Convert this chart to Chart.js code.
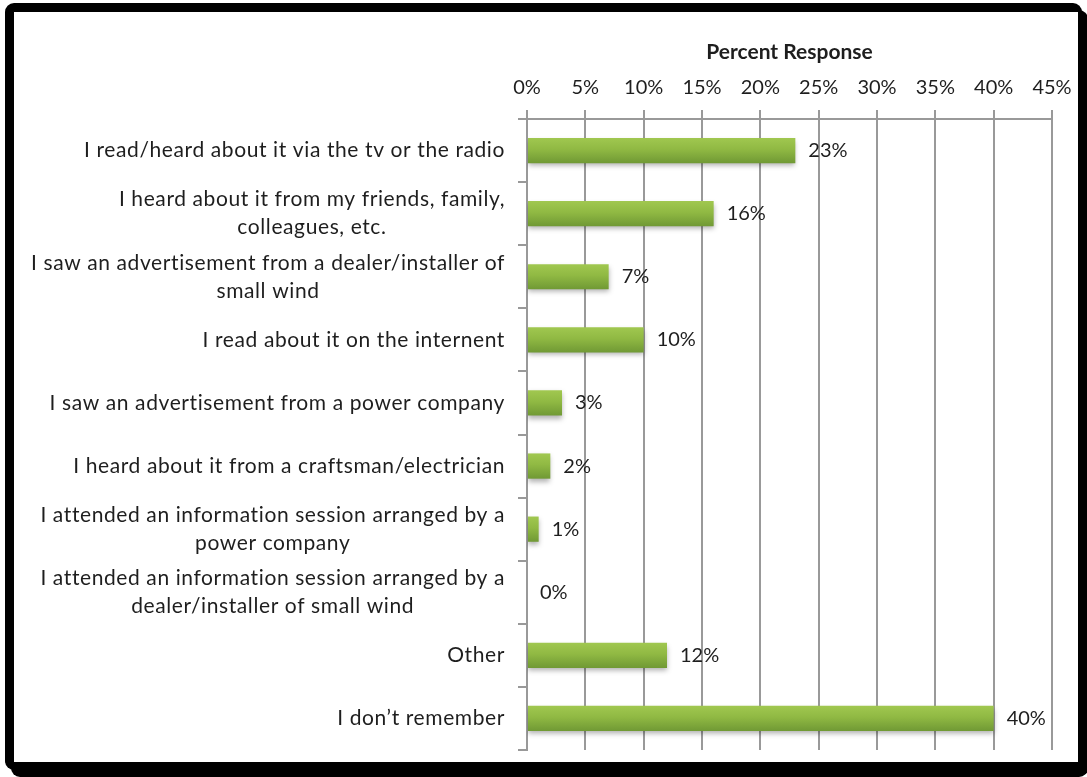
<!DOCTYPE html>
<html>
<head>
<meta charset="utf-8">
<title>Percent Response</title>
<script src="https://cdn.jsdelivr.net/npm/chart.js@4.4.0/dist/chart.umd.min.js"></script>
<style>
  html, body { margin: 0; padding: 0; background: #fff; }
  body { width: 1087px; height: 777px; position: relative; overflow: hidden; }
  .frame {
    position: absolute; left: 5px; top: 3px; width: 1077px; height: 767px;
    background: #000; border-radius: 9px; box-shadow: 6px 7px 0 #000;
  }
  .panel {
    position: absolute; left: 14px; top: 12px; width: 1064px; height: 750px;
    background: #fff;
  }
</style>
</head>
<body>
<div class="frame"></div>
<div class="panel"><canvas id="barChart"></canvas></div>
<script>
document.addEventListener('DOMContentLoaded', function() {

const categories = [
  ['I read/heard about it via the tv or the radio'],
  ['I heard about it from my friends, family,', 'colleagues, etc.'],
  ['I saw an advertisement from a dealer/installer of', 'small wind'],
  ['I read about it on the internent'],
  ['I saw an advertisement from a power company'],
  ['I heard about it from a craftsman/electrician'],
  ['I attended an information session arranged by a', 'power company'],
  ['I attended an information session arranged by a', 'dealer/installer of small wind'],
  ['Other'],
  ['I don\u2019t remember']
];
const responses = [23, 16, 7, 10, 3, 2, 1, 0, 12, 40]; // percent
const axisMin = 0;
const axisMax = 45;
const axisStep = 5;

const FONT = 'Lato, "Liberation Sans", sans-serif';
const TEXT = '#1e1e1e';
const GRID = '#999999';

// green bar fill, lighter at the top edge
function barFill(context) {
  const chart = context.chart;
  const y = chart.scales.y;
  if (!chart.chartArea || !y || context.dataIndex === undefined) return '#8cb543';
  const mid = y.getPixelForValue(context.dataIndex);
  if (!isFinite(mid)) return '#8cb543';
  const g = chart.ctx.createLinearGradient(0, mid - 13, 0, mid + 13);
  g.addColorStop(0, '#a1c850');
  g.addColorStop(0.45, '#90b943');
  g.addColorStop(1, '#6f9834');
  return g;
}

// soft drop shadow under bars, then value labels and wrapped category labels
const labelPlugin = {
  id: 'responseLabels',
  beforeDatasetsDraw(chart) {
    const ctx = chart.ctx;
    ctx.save();
    ctx.shadowColor = 'rgba(0, 0, 0, 0.3)';
    ctx.shadowBlur = 5;
    ctx.shadowOffsetY = 3;
  },
  afterDatasetsDraw(chart) {
    const ctx = chart.ctx;
    ctx.restore();
    const x = chart.scales.x;
    const y = chart.scales.y;

    ctx.save();
    ctx.fillStyle = TEXT;
    ctx.textBaseline = 'middle';

    ctx.font = '20px ' + FONT;
    ctx.textAlign = 'left';
    responses.forEach(function(v, i) {
      ctx.fillText(v + '%', x.getPixelForValue(v) + 13, y.getPixelForValue(i));
    });

    ctx.font = '21px ' + FONT;
    ctx.letterSpacing = '0.6px';
    ctx.textAlign = 'center';
    const right = y.right - y.options.grid.tickLength - 13;
    const lineHeight = 28;
    categories.forEach(function(lines, i) {
      const block = Math.max.apply(null, lines.map(function(s) { return ctx.measureText(s).width; }));
      const cx = right - block / 2;
      const top = y.getPixelForValue(i) - (lines.length - 1) * lineHeight / 2;
      lines.forEach(function(s, k) {
        ctx.fillText(s, cx, top + k * lineHeight);
      });
    });
    ctx.restore();
  }
};

const barCtx = document.getElementById('barChart').getContext('2d');
const barChart = new Chart(barCtx, {
  type: 'bar',
  data: {
    labels: categories,
    datasets: [{
      label: 'Percent Response',
      data: responses,
      backgroundColor: barFill,
      borderWidth: 0,
      barPercentage: 0.4,
      categoryPercentage: 1
    }]
  },
  options: {
    indexAxis: 'y',
    responsive: true,
    maintainAspectRatio: false,
    animation: false,
    layout: { padding: { top: 0, left: 0, right: 26, bottom: 12 } },
    plugins: {
      legend: { display: false },
      tooltip: { enabled: false }
    },
    scales: {
      x: {
        position: 'top',
        min: axisMin,
        max: axisMax,
        afterFit: function(scale) {
          scale.height = 107;
          scale.paddingLeft = 0;
          scale.paddingRight = 0;
        },
        ticks: {
          stepSize: axisStep,
          padding: 10,
          color: TEXT,
          font: { family: FONT, size: 20 },
          callback: function(v) { return v + '%'; }
        },
        title: {
          display: true,
          text: 'Percent Response',
          color: TEXT,
          font: { family: FONT, size: 21, weight: 'bold' },
          padding: { top: 28, bottom: 0 }
        },
        grid: {
          color: GRID,
          lineWidth: 2,
          drawOnChartArea: true,
          drawTicks: true,
          tickLength: 9
        },
        border: { color: GRID, width: 2 }
      },
      y: {
        afterFit: function(scale) { scale.width = 513; },
        ticks: { display: false },
        grid: {
          color: GRID,
          lineWidth: 2,
          offset: true,
          drawOnChartArea: false,
          drawTicks: true,
          tickLength: 9
        },
        border: { color: GRID, width: 2 }
      }
    }
  },
  plugins: [labelPlugin]
});

});
</script>
</body>
</html>
